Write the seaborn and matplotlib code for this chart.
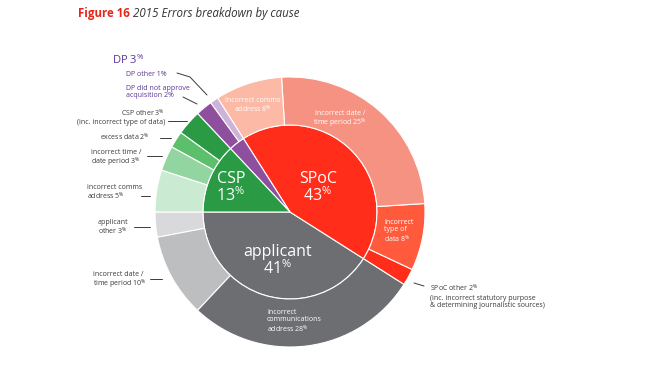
import matplotlib
matplotlib.use('Agg')
import matplotlib.pyplot as plt
import seaborn as sns

sns.set_style('white')
plt.rcParams['font.family'] = ['Open Sans', 'DejaVu Sans']
plt.rcParams['mathtext.fontset'] = 'custom'
plt.rcParams['mathtext.rm'] = 'Open Sans'
plt.rcParams['mathtext.it'] = 'Open Sans:italic'
plt.rcParams['mathtext.bf'] = 'Open Sans:bold'

# inner ring: error cause
cause_names = ['applicant', 'SPoC', 'DP', 'CSP']
cause_pct = [41, 43, 3, 13]
cause_colors = ['#6d6e71', '#ff2d1a', '#8e4f9e', '#2a9a45']

# outer ring: breakdown of each cause (same order, counter-clockwise from 9 o'clock)
detail_names = ['applicant other', 'incorrect date / time period', 'incorrect communications address',
                'SPoC other', 'incorrect type of data', 'incorrect date / time period', 'incorrect comms address',
                'DP other', 'DP did not approve acquisition',
                'CSP other', 'excess data', 'incorrect time / date period', 'incorrect comms address']
detail_pct = [3, 10, 28, 2, 8, 25, 8, 1, 2, 3, 2, 3, 5]
detail_colors = ['#d9d9db', '#bdbec0', '#6d6e71',
                 '#ff2d1a', '#ff5a3c', '#f69282', '#fbb9a6',
                 '#cdb3d8', '#8e4f9e',
                 '#2a9a45', '#5cbf6c', '#92d5a0', '#cbead2']

W, H = 648, 385
fig = plt.figure(figsize=(6.48, 3.85), dpi=100)
ax = fig.add_axes([0, 0, 1, 1])

def Y(y):
    return H - y

cx, cy = 290, Y(212)
edge = dict(edgecolor='white', linewidth=0.8)

ax.pie(cause_pct, colors=cause_colors, radius=87, center=(cx, cy),
       startangle=180, counterclock=True, wedgeprops=edge)
ax.pie(detail_pct, colors=detail_colors, radius=135, center=(cx, cy),
       startangle=180, counterclock=True, wedgeprops=dict(width=48, **edge))

ax.set_xlim(0, W)
ax.set_ylim(0, H)
ax.set_aspect('equal')
ax.axis('off')

# title
fig.text(78 / W, 1 - 17 / H, 'Figure 16', color='#e5261c', fontsize=8.3, fontweight='bold', va='baseline')
fig.text(133 / W, 1 - 17 / H, '2015 Errors breakdown by cause', color='#333333', fontsize=8.3,
         style='italic', va='baseline')

pc = '$^{\\%}$'

# inner labels
big = dict(color='white', fontsize=11.5, ha='center', va='center', linespacing=1.0)
ax.text(318, Y(188), 'SPoC\n43' + pc, **big)
ax.text(231, Y(188), 'CSP\n13' + pc, **big)
ax.text(278, Y(261), 'applicant\n41' + pc, **big)

# labels inside outer ring
small = dict(color='white', fontsize=5, va='center', linespacing=1.05)
ax.text(253, Y(106), 'Incorrect comms\naddress 8' + pc, ha='center', **small)
ax.text(340, Y(120), 'Incorrect date /\ntime period 25' + pc, ha='center', **small)
ax.text(384, Y(232), 'Incorrect\ntype of\ndata 8' + pc, ha='left', **small)
ax.text(267, Y(322), 'Incorrect\ncommunications\naddress 28' + pc, ha='left', **small)

# outside labels
grey = '#3a3a3a'
out = dict(color=grey, fontsize=5, va='center', linespacing=1.05)
ax.text(165, Y(117), 'CSP other 3' + pc + '\n(inc. incorrect type of data)', ha='right', multialignment='right', **out)
ax.text(150, Y(137), 'excess data 2' + pc, ha='right', **out)
ax.text(91, Y(159), 'incorrect time /\ndate period 3' + pc, ha='left', **out)
ax.text(87, Y(193), 'incorrect comms\naddress 5' + pc, ha='left', **out)
ax.text(98, Y(228), 'applicant\nother 3' + pc, ha='left', **out)
ax.text(93, Y(281), 'incorrect date /\ntime period 10' + pc, ha='left', **out)
ax.text(430, Y(296), 'SPoC other 2' + pc + '\n(inc. incorrect statutory purpose\n& determining journalistic sources)',
        ha='left', **out)

line = dict(color=grey, lw=0.7)
ax.plot([168, 187], [Y(121), Y(121)], **line)
ax.plot([160, 171], [Y(138), Y(138)], **line)
ax.plot([147, 162], [Y(156), Y(156)], **line)
ax.plot([141, 150], [Y(196), Y(196)], **line)
ax.plot([134, 150], [Y(227), Y(227)], **line)
ax.plot([150, 162], [Y(279), Y(279)], **line)
ax.plot([414, 424], [Y(283), Y(286)], **line)

# DP labels
purple = '#5b3595'
ax.text(112, Y(60), 'DP 3' + pc, color=purple, fontsize=8, ha='left', va='center')
ax.text(126, Y(74), 'DP other 1%', color=purple, fontsize=5, ha='left', va='center')
ax.text(126, Y(92), 'DP did not approve\nacquisition 2%', color=purple, fontsize=5, ha='left', va='center',
        linespacing=1.05)
ax.plot([177, 190, 207], [Y(73), Y(77), Y(95)], **line)
ax.plot([183, 197], [Y(97), Y(104)], **line)

fig.savefig('out.png', dpi=100)
